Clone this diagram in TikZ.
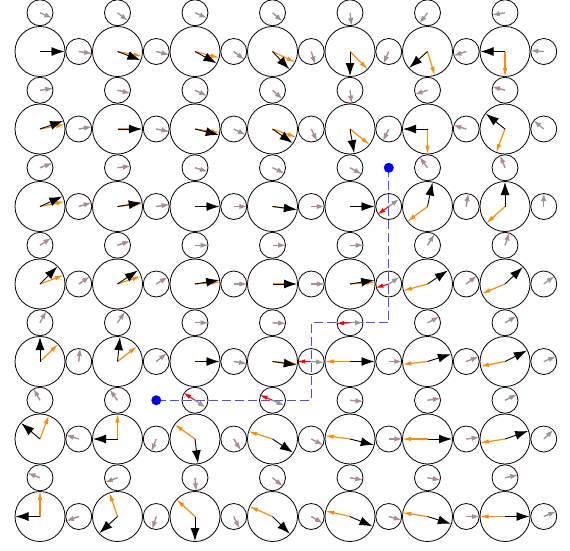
\documentclass[tikz,border=0pt]{standalone}
\usetikzlibrary{arrows.meta}
\definecolor{dorange}{RGB}{255,140,0}
\definecolor{garrc}{RGB}{150,150,150}
\definecolor{rosyc}{RGB}{188,133,133}
\definecolor{pblue}{RGB}{0,0,255}
\begin{document}
\begin{tikzpicture}[x=1pt,y=1pt,
  bigc/.style={circle,draw=black,line width=0.8pt,minimum size=50pt,inner sep=0pt},
  smc/.style={circle,draw=black,line width=0.8pt,minimum size=26pt,inner sep=0pt},
  barr/.style={draw=black,line width=0.9pt,-{Latex[length=13pt,width=9pt]}},
  oarr/.style={draw=dorange,line width=1.2pt,-{Latex[length=9pt,width=4.5pt]}},
  garr/.style={draw=garrc,line width=1.3pt,-{Latex[length=7.5pt,width=5.5pt]}},
  rosarr/.style={draw=rosyc,line width=0.7pt,-{Latex[length=5pt,width=3pt]}},
  redarr/.style={draw=red,line width=1.1pt,-{Latex[length=8pt,width=4.5pt]}},
  pathl/.style={draw=pblue,line width=1.2pt,dash pattern=on 9pt off 4pt,opacity=0.7},
  pdot/.style={circle,fill=pblue,minimum size=10pt,inner sep=0pt}]
\useasboundingbox (0,0) rectangle (570,-550);
% circles
\foreach \i in {0,...,6}{\foreach \j in {0,...,6}{
  \node[bigc] (L\i\j) at ({40+77.5*\i},{-51.5-77.5*\j}) {};
  \node[smc] (V\i\j) at ({40+77.5*\i},{-12.75-77.5*\j}) {};
  \node[smc] (H\i\j) at ({78.75+77.5*\i},{-51.5-77.5*\j}) {};
}}
% path
\node[pdot] (A) at (388.75,-167.75) {};
\node[pdot] (B) at (156.25,-400.25) {};
\coordinate (P1) at (388.75,-322.75);
\coordinate (P2) at (311.25,-322.75);
\coordinate (P3) at (311.25,-400.25);
\draw[pathl] (A.center) -- (P1) -- (P2) -- (P3) -- (B.center);
% large circle arrows
\foreach \i/\j/\bx/\by/\ox/\oy/\ol in {
0/0/1/0/1/0/20, 1/0/22.5/8.5/26/5/25.5, 2/0/21.7/11.8/25.7/6.8/25.5, 3/0/17.5/18.5/23.5/11.2/25.5,
4/0/0/1/18.3/18.5/25.5, 5/0/-19/17/7.5/24.5/25.5, 6/0/-1/0/0/1/25.5,
0/1/23/-8/24/-4.5/25.5, 1/1/1/0/1/0/20, 2/1/24.3/6/25.7/3.7/25.5, 3/1/18.2/12.7/24/8.3/25.5,
4/1/4.3/25/20/16/25.5, 5/1/-1/0/0/1/25.5, 6/1/-20/-16/-9/24/25.5,
0/2/23.3/-10.5/25/-5/25.5, 1/2/25/-4/26/-3/25.5, 2/2/1/0/1/0/20, 3/2/24/3/26/3.5/25.5,
4/2/1/0/1/0/20, 5/2/5/-24/-21.5/16/25.5, 6/2/0/-1/-20/18/25.5,
0/3/17/-17/24/-9/25.5, 1/3/21/-14/24/-8/25, 2/3/25/-4/26/-2/25.5, 3/3/1/0/1/0/20,
4/3/25/-4/26/-2/25.5, 5/3/21/-14/-25/7/25.5, 6/3/18/-17/-24/10/25.5,
0/4/0/-1/19/-18/25.5, 1/4/2.5/-25/20/-15.5/25, 2/4/1/0/1/0/20, 3/4/25/3.5/26/2.5/25.5,
4/4/1/0/-1/0/25, 5/4/24/-7.5/-26/3/25.5, 6/4/22/-11/-25.5/5/25.5,
0/5/-19/-16/9/-24/25.5, 1/5/-1/0/0/-1/25.5, 2/5/3/24.5/-21/-15/25.5, 3/5/21/14/-25/-8/25.5,
4/5/24/6/-26/-3.5/25.5, 5/5/1/0/-1/0/25.5, 6/5/23/-8/-25.5/4/25.5,
0/6/-1/0/0/-1/25.5, 1/6/-18.5/17/-8.5/-25/25.5, 2/6/0/1/-19/-17.5/25.5, 3/6/17.5/17.5/-24/-10.5/25.5,
4/6/23/10/-26/-6/25.5, 5/6/24/7.5/-26/-4/25.5, 6/6/1/0/-1/0/25.5}{
  \draw[oarr] (L\i\j.center) -- ++({atan2(0-(\oy),\ox)}:\ol pt);
  \draw[barr] (L\i\j.center) -- ++({atan2(0-(\by),\bx)}:24.5pt);
}
% small vertical circles, gray + rosy
\foreach \i/\j/\dx/\dy in {
0/1/13.3/-2, 1/1/13/3, 2/1/13.3/6.3, 3/1/11/9.7, 4/1/1.7/13, 5/1/-14/4.7, 6/1/-13.3/-3.7,
0/2/13.3/-5, 1/2/13/-1.7, 2/2/13.3/4, 3/2/12.5/5.7, 4/2/11.7/6.3, 5/2/-8/-11, 6/2/-5/-12.7,
0/3/11.7/-7.7, 1/3/13/-4.3, 2/3/13.3/0, 3/3/13.5/0, 4/3/13.3/0, 5/3/6.5/-10.3, 6/3/4.3/-12,
0/4/6.7/-12.7, 1/4/7.5/-11, 2/4/13.3/0, 3/4/13.5/0.7, 5/4/11.8/-6, 6/4/11.7/-6.7,
0/5/-6.7/-12, 1/5/-8/-11, 4/5/13.3/1.3, 5/5/13/-2, 6/5/12.3/-6,
0/6/-13.3/-5, 1/6/-13.5/5, 2/6/1/12, 3/6/10/8.3, 4/6/13.3/2.3, 5/6/13/2.3, 6/6/12.3/-2.7}{
  \draw[garr] (V\i\j.center) -- ++({atan2(0-(\dy),\dx)}:13pt);
  \draw[rosarr] (V\i\j.center) -- ++({atan2(0-(\dy),\dx)}:12.5pt);
}
% small horizontal circles, gray + rosy
\foreach \i/\j/\dx/\dy in {
0/0/13/2, 1/0/13.7/3.5, 2/0/11.3/8.5, 3/0/3.75/12, 4/0/-5.3/12, 5/0/-13.7/4.5,
0/1/13/-2.3, 1/1/13.7/2.7, 2/1/12.3/6, 3/1/5.4/11, 4/1/-5.3/11, 5/1/-13.7/-4,
0/2/13/-4, 1/2/13.7/-2, 2/2/13/0, 3/2/13.7/0, 5/2/2/-13,
0/3/12/-8, 1/3/12/-7.3, 2/3/13.7/0, 3/3/12/0, 5/3/10.3/-8,
0/4/1.3/-13, 1/4/10.3/-8, 2/4/13/2, 4/4/11.3/0, 5/4/13/-5,
0/5/-12.7/-4, 1/5/-4.7/11.7, 2/5/8/12.7, 3/5/12/6, 4/5/13/0, 5/5/13/-1.7,
0/6/-13.7/5, 1/6/-3.7/11.8, 2/6/5.7/11.8, 3/6/12/7, 4/6/12/3.5, 5/6/13/0}{
  \draw[garr] (H\i\j.center) -- ++({atan2(0-(\dy),\dx)}:13pt);
  \draw[rosarr] (H\i\j.center) -- ++({atan2(0-(\dy),\dx)}:12.5pt);
}
% boundary small circles, gray only
\foreach \n/\dx/\dy in {
V00/13.3/5.7, V10/13/10, V20/13.3/5.7, V30/11.5/10, V40/1.7/14, V50/-9/12, V60/-13.3/2.3,
H60/-13.7/-1, H61/-8.7/-7.3, H62/0/-13, H63/11/-8, H64/12.3/-5, H65/10.3/-9.7, H66/12.3/-5}{
  \draw[garr] (\n.center) -- ++({atan2(0-(\dy),\dx)}:13pt);
}
% small circles on the path: gray and red
\foreach \n/\gx/\gy/\rx/\ry in {
H42/9.7/-7/-12/8.5, H43/10.3/-6.7/-13.7/4, V44/11.7/0/-15/1,
H34/13.7/1/-14.5/0, V35/12.5/5.7/-12.5/-5.3, V25/10/7/-11.7/-7.7}{
  \draw[garr] (\n.center) -- ++({atan2(0-(\gy),\gx)}:12.5pt);
  \draw[redarr] (\n.center) -- ++({atan2(0-(\ry),\rx)}:14pt);
}
\end{tikzpicture}
\end{document}
